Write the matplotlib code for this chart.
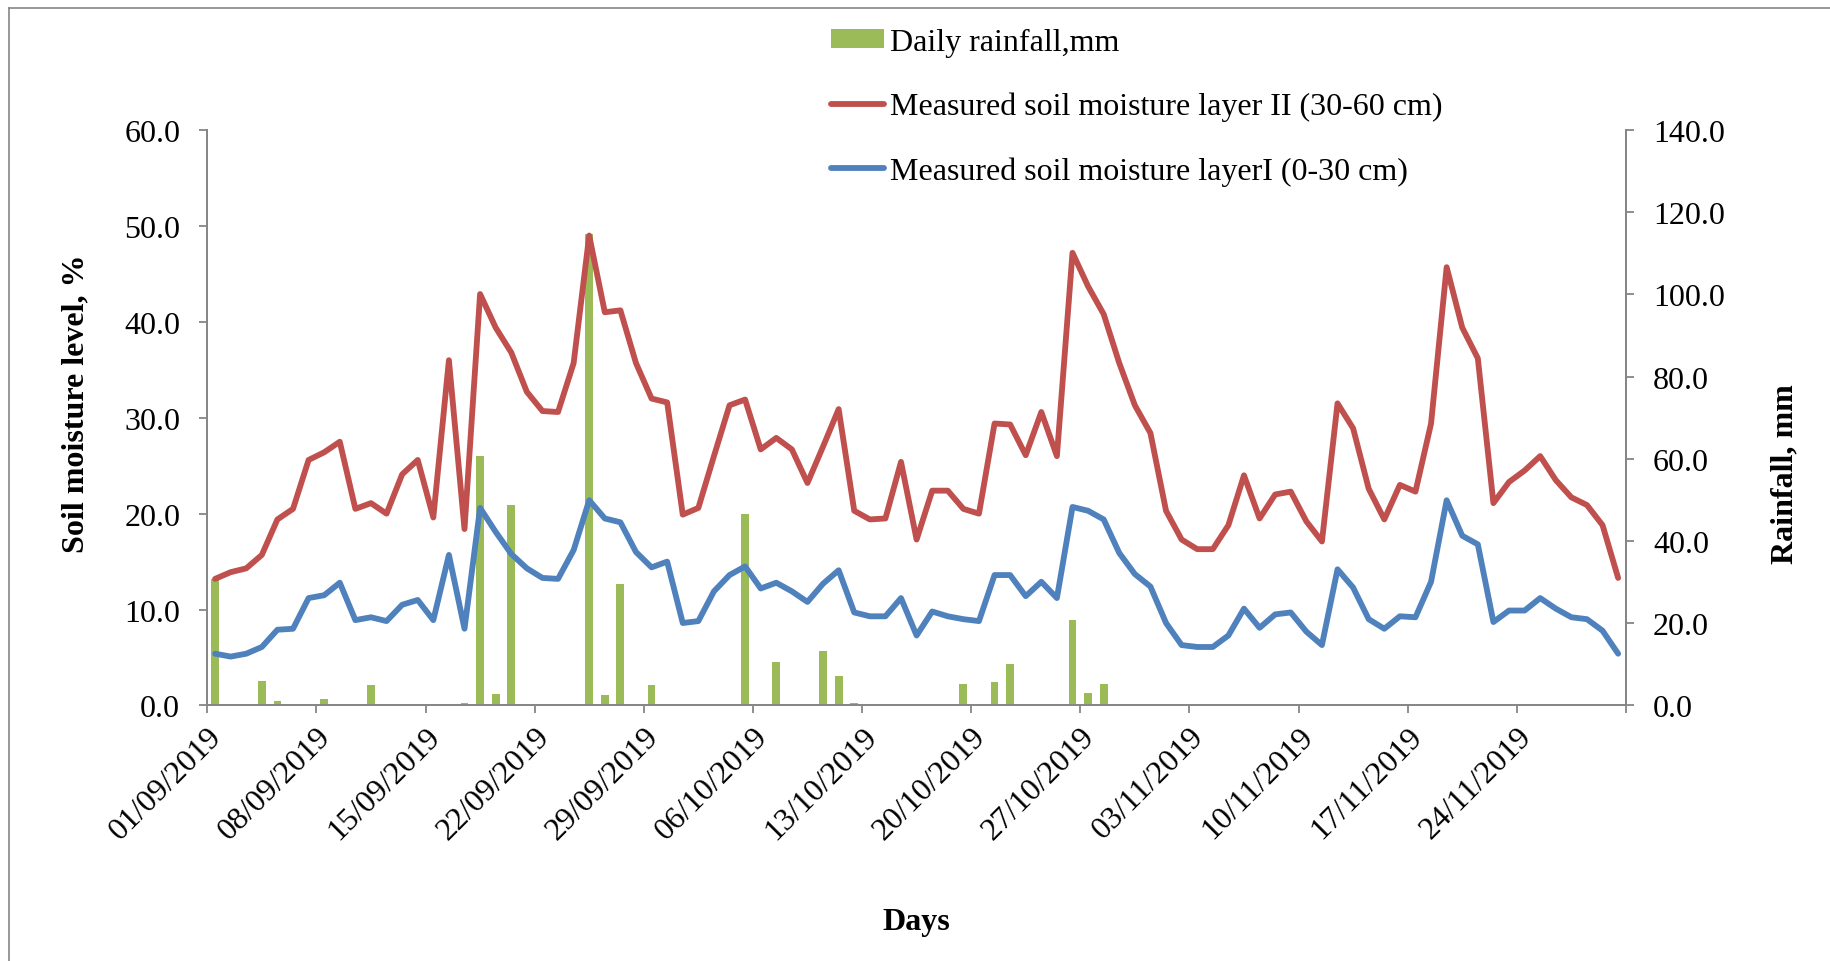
import numpy as np
import pandas as pd
import matplotlib
matplotlib.use("Agg")
import matplotlib.pyplot as plt
import matplotlib.transforms as mtransforms
from matplotlib.lines import Line2D

# daily values, 01/09/2019 .. 30/11/2019
start_date = "2019-09-01"
n_days = 91

layer2 = [13.2, 13.9, 14.3, 15.7, 19.4, 20.5, 25.6, 26.4, 27.5, 20.5,
          21.1, 20.0, 24.1, 25.6, 19.6, 36.0, 18.4, 42.9, 39.4, 36.8,
          32.7, 30.7, 30.6, 35.7, 49.0, 41.0, 41.2, 35.7, 32.0, 31.6,
          19.9, 20.6, 26.0, 31.3, 31.9, 26.7, 27.9, 26.7, 23.2, 27.0,
          30.9, 20.3, 19.4, 19.5, 25.4, 17.3, 22.4, 22.4, 20.5, 20.0,
          29.4, 29.3, 26.1, 30.6, 26.0, 47.2, 43.7, 40.8, 35.7, 31.3,
          28.4, 20.3, 17.3, 16.3, 16.3, 18.8, 24.0, 19.5, 22.0, 22.3,
          19.2, 17.1, 31.5, 28.9, 22.6, 19.4, 23.0, 22.3, 29.4, 45.7,
          39.4, 36.2, 21.1, 23.3, 24.5, 26.0, 23.5, 21.7, 20.9, 18.8,
          13.3]

layer1 = [5.4, 5.1, 5.4, 6.1, 7.9, 8.0, 11.2, 11.5, 12.8, 8.9,
          9.2, 8.8, 10.5, 11.0, 8.9, 15.7, 8.0, 20.6, 18.1, 15.8,
          14.3, 13.3, 13.2, 16.2, 21.4, 19.5, 19.1, 16.0, 14.4, 15.0,
          8.6, 8.8, 11.9, 13.6, 14.5, 12.2, 12.8, 11.9, 10.8, 12.7,
          14.1, 9.7, 9.3, 9.3, 11.2, 7.3, 9.8, 9.3, 9.0, 8.8,
          13.6, 13.6, 11.4, 12.9, 11.2, 20.7, 20.3, 19.4, 15.9, 13.7,
          12.4, 8.6, 6.3, 6.1, 6.1, 7.3, 10.1, 8.1, 9.5, 9.7,
          7.7, 6.3, 14.2, 12.3, 9.0, 8.0, 9.3, 9.2, 12.9, 21.4,
          17.7, 16.8, 8.7, 9.9, 9.9, 11.2, 10.1, 9.2, 9.0, 7.8,
          5.4]

rainfall = [30.7, 0, 0, 6.0, 1.0, 0, 0, 1.7, 0, 0,
            4.9, 0, 0, 0, 0, 0, 0.6, 60.7, 2.8, 48.7,
            0, 0, 0, 0.4, 114.8, 2.5, 29.6, 0, 5.0, 0,
            0, 0, 0, 0, 46.6, 0, 10.6, 0, 0, 13.2,
            7.2, 0.6, 0, 0, 0, 0, 0, 0, 5.2, 0,
            5.6, 10.2, 0, 0, 0, 20.8, 3.0, 5.2, 0, 0,
            0, 0, 0, 0, 0, 0, 0, 0, 0, 0,
            0, 0, 0, 0, 0, 0, 0, 0, 0, 0,
            0, 0, 0, 0, 0, 0, 0, 0, 0, 0,
            0]

dates = pd.date_range(start_date, periods=n_days, freq="D")
tick_days = np.arange(0, n_days, 7)
tick_labels = [d.strftime("%d/%m/%Y") for d in dates[tick_days]]

RED = "#C0504D"
BLUE = "#4F81BD"
GREEN = "#9BBB59"
AXIS_GREY = "#868686"
FS = 23

plt.rcParams["font.family"] = ["Liberation Serif", "DejaVu Serif"]

fig = plt.figure(figsize=(18.31, 9.62), dpi=100)
ax = fig.add_axes([0.1132, 0.2656, 0.7748, 0.5982])
ax2 = ax.twinx()

x = np.arange(n_days) + 0.5
bars = ax2.bar(x, rainfall, width=0.5, color=GREEN, label="Daily rainfall,mm")
l2, = ax.plot(x, layer2, color=RED, lw=4.2, solid_capstyle="round",
              solid_joinstyle="round",
              label="Measured soil moisture layer II (30-60 cm)")
l1, = ax.plot(x, layer1, color=BLUE, lw=4.2, solid_capstyle="round",
              solid_joinstyle="round",
              label="Measured soil moisture layerI (0-30 cm)")

# lines above the bars
ax.set_zorder(ax2.get_zorder() + 1)
ax.patch.set_visible(False)

ax.set_xlim(0, n_days)
ax.set_ylim(0, 60)
ax2.set_ylim(0, 140)
ax.set_yticks(np.arange(0, 61, 10))
ax2.set_yticks(np.arange(0, 141, 20))
ax.yaxis.set_major_formatter(matplotlib.ticker.FormatStrFormatter("%.1f"))
ax2.yaxis.set_major_formatter(matplotlib.ticker.FormatStrFormatter("%.1f"))

ax.set_xticks(list(tick_days) + [n_days])
ax.set_xticklabels(tick_labels + [""], rotation=45, ha="right", va="top",
                   rotation_mode="anchor")
offset = mtransforms.ScaledTranslation(12 / 100, -4 / 100, fig.dpi_scale_trans)
for lab in ax.get_xticklabels():
    lab.set_transform(lab.get_transform() + offset)

for a in (ax, ax2):
    a.spines["top"].set_visible(False)
    for side in ("left", "right", "bottom"):
        a.spines[side].set_color(AXIS_GREY)
        a.spines[side].set_linewidth(1.3)
    a.tick_params(axis="both", colors=AXIS_GREY, labelcolor="black",
                  labelsize=FS, length=5.5, width=1.3, direction="out")
ax.tick_params(axis="y", pad=14)
ax2.tick_params(axis="y", pad=14)
ax.tick_params(axis="x", pad=6)

ax.set_ylabel("Soil moisture level, %", fontsize=FS, fontweight="bold")
ax.yaxis.set_label_coords(-0.0827, 0.526)
ax2.set_ylabel("Rainfall, mm", fontsize=FS, fontweight="bold", rotation=90)
ax2.yaxis.set_label_coords(1.102, 0.404)
ax.set_xlabel("Days", fontsize=FS, fontweight="bold")
ax.xaxis.set_label_coords(0.5, -0.3745)
ax.xaxis.label.set_va("center")

fig.legend(handles=[bars, l2, l1], loc="upper left",
           bbox_to_anchor=(831 / 1831, 1 - 29 / 962), frameon=False,
           fontsize=FS, handlelength=1.65, handletextpad=0.2,
           labelspacing=1.09, handleheight=0.55, borderaxespad=0,
           borderpad=0)

# outer chart border
fig.add_artist(Line2D([9 / 1831, 9 / 1831], [0, 1 - 9 / 962],
                      transform=fig.transFigure, color=AXIS_GREY, lw=1.2))
fig.add_artist(Line2D([9 / 1831, 1], [1 - 9 / 962, 1 - 9 / 962],
                      transform=fig.transFigure, color=AXIS_GREY, lw=1.2))

fig.savefig("out.png", dpi=100)
